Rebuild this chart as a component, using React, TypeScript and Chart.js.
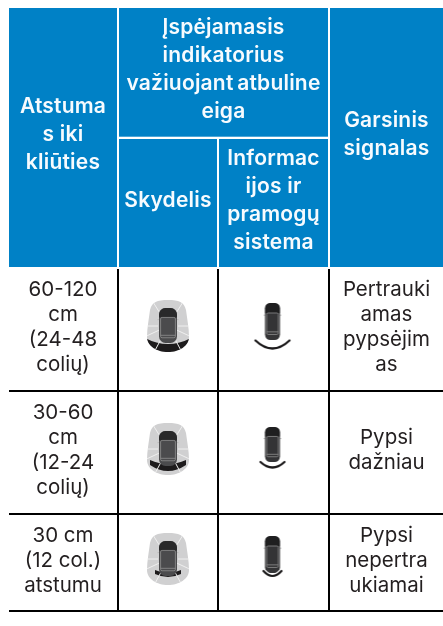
import React, { useEffect, useRef } from "react";
import { Chart, registerables } from "chart.js";

Chart.register(...registerables);

// ---- table content
const headDistance = ["Atstuma", "s iki", "kliūties"];
const headIndicator = ["Įspėjamasis", "indikatorius", "važiuojant\u2009atbuline", "eiga"];
const headPanel = ["Skydelis"];
const headInfo = ["Informac", "ijos ir", "pramogų", "sistema"];
const headSound = ["Garsinis", "signalas"];
const distanceLabels = [
  ["60-120", "cm", "(24-48", "colių)"],
  ["30-60", "cm", "(12-24", "colių)"],
  ["30 cm", "(12 col.)", "atstumu"],
];
const soundLabels = [
  ["Pertrauki", "amas", "pypsėjim", "as"],
  ["Pypsi", "dažniau"],
  ["Pypsi", "nepertra", "ukiamai"],
];
// warning level of each row: index into the icon variants
const warningLevels = [0, 1, 2];

// ---- table geometry, in axis units
const columnEdges = [9, 117, 119, 217, 219, 328, 330, 443];
const headerEdges = [8, 136.7, 139, 267];
const rowEdges = [269, 390, 392, 513, 515, 610];
const panelIconCentres = [326, 449, 559];
const infoIconCentres = [326, 448, 557];

const BLUE = "#0081c6";
const HEAD_FONT = '600 21px Inter, "Noto Sans", sans-serif';
const BODY_FONT = '400 20.5px Inter, "Noto Sans", sans-serif';

function drawCar(c: CanvasRenderingContext2D, cx: number, top: number, w: number, h: number, body: string, hood: string) {
  const x = cx - w / 2;
  c.strokeStyle = "#b5b5b5";
  c.lineWidth = 0.8;
  // mirrors
  c.beginPath();
  c.moveTo(x - 1.5, top + h * 0.33);
  c.lineTo(x + w + 1.5, top + h * 0.33);
  c.stroke();
  c.fillStyle = body;
  c.beginPath();
  c.roundRect(x, top, w, h, w * 0.36);
  c.fill();
  // hood
  c.save();
  c.beginPath();
  c.roundRect(x, top, w, h, w * 0.36);
  c.clip();
  c.fillStyle = hood;
  c.fillRect(x, top, w, h * 0.27);
  c.restore();
  c.strokeStyle = "#8f8f8f";
  c.beginPath();
  c.roundRect(x + 1.6, top + h * 0.27, w - 3.2, h * 0.58, 1.5);
  c.stroke();
  c.beginPath();
  c.moveTo(x + 1.6, top + h * 0.78);
  c.lineTo(x + w - 1.6, top + h * 0.78);
  c.stroke();
}

function makeCanvas(w: number, h: number) {
  const cv = document.createElement("canvas");
  cv.width = w;
  cv.height = h;
  const c = cv.getContext("2d") as CanvasRenderingContext2D;
  c.filter = "blur(0.55px)";
  return { cv, c };
}

// black warning band of the panel icon
const panelBandLeft = [-2, 3, 8];
const panelBandRight = [44, 39, 34];
const panelBandTop = [38, 37, 37];
const panelBandTopDip = [12, 8, 6];
const panelBandEnd = [38, 42, 41];
const panelBandEndDip = [40, 12, 6];

function panelIcon(level: number) {
  const W = 48;
  const H = 58;
  const { cv, c } = makeCanvas(W, H);
  const ox = 3;
  const oy = 3;
  const w = 42;
  const h = 52;
  const shape = new Path2D();
  shape.moveTo(ox + 21, oy);
  shape.bezierCurveTo(ox + 32, oy, ox + 37, oy + 2, ox + 39, oy + 10);
  shape.bezierCurveTo(ox + 40, oy + 18, ox + w, oy + 28, ox + w, oy + 37);
  shape.bezierCurveTo(ox + w, oy + 46, ox + 32, oy + h, ox + 21, oy + h);
  shape.bezierCurveTo(ox + 10, oy + h, ox, oy + 46, ox, oy + 37);
  shape.bezierCurveTo(ox, oy + 28, ox + 2, oy + 18, ox + 3, oy + 10);
  shape.bezierCurveTo(ox + 5, oy + 2, ox + 10, oy, ox + 21, oy);
  shape.closePath();
  c.save();
  c.clip(shape);
  c.fillStyle = "#d0d0d1";
  c.fillRect(0, 0, W, H);
  const cx = ox + 21;
  const cy = oy + 26;
  const rad = (d: number) => (d * Math.PI) / 180;
  const L = ox + panelBandLeft[level];
  const R = ox + panelBandRight[level];
  c.fillStyle = "#1d1b1c";
  c.beginPath();
  c.moveTo(L, oy + panelBandTop[level]);
  c.quadraticCurveTo(cx, oy + panelBandTop[level] + panelBandTopDip[level], R, oy + panelBandTop[level]);
  c.lineTo(R, oy + panelBandEnd[level]);
  c.quadraticCurveTo(cx, oy + panelBandEnd[level] + panelBandEndDip[level], L, oy + panelBandEnd[level]);
  c.closePath();
  c.fill();
  // zone separators
  c.strokeStyle = "#efefef";
  c.lineWidth = 1;
  for (const a of [-122, -58, 0, 180, 62, 118, 25, 155]) {
    c.beginPath();
    c.moveTo(cx + 10 * Math.cos(rad(a)), cy + 10 * Math.sin(rad(a)));
    c.lineTo(cx + 45 * Math.cos(rad(a)), cy + 45 * Math.sin(rad(a)));
    c.stroke();
  }
  c.restore();
  drawCar(c, cx, oy + 8, 18, 35, "#4b4b4d", "#29292a");
  return cv;
}

// car and parking-distance arc of the infotainment icon
const infoCarTop = [7, 9, 9];
const infoCarLength = [37, 35, 37];
const infoArcY = [44.5, 44, 44];
const infoArcHalf = [17, 12, 9];
const infoArcDip = [16, 11, 10];

function infoIcon(level: number) {
  const W = 44;
  const H = 60;
  const { cv, c } = makeCanvas(W, H);
  const cx = 22;
  drawCar(c, cx, infoCarTop[level], 15, infoCarLength[level], "#343436", "#1f1f20");
  const y0 = infoArcY[level];
  const half = infoArcHalf[level];
  const path = new Path2D();
  path.moveTo(cx - half, y0);
  path.quadraticCurveTo(cx, y0 + infoArcDip[level], cx + half, y0);
  c.lineCap = "round";
  c.strokeStyle = "#ffffff";
  c.lineWidth = 4.5;
  c.stroke(path);
  c.strokeStyle = "#1d1b1c";
  c.lineWidth = 2.2;
  c.stroke(path);
  return cv;
}

type Box = { x0: number; x1: number; y0: number; y1: number; lines: string[] };

function App() {
  const ref = useRef<HTMLCanvasElement>(null);

  useEffect(() => {
    if (!ref.current) return;
    const [c0, c0e, c1, c1e, c2, c2e, c3, c3e] = columnEdges;
    const [h0, h0e, h1, h1e] = headerEdges;
    const heads: Box[] = [
      { x0: c0, x1: c0e, y0: h0, y1: h1e, lines: headDistance },
      { x0: c1, x1: c2e, y0: h0, y1: h0e, lines: headIndicator },
      { x0: c1, x1: c1e, y0: h1, y1: h1e, lines: headPanel },
      { x0: c2, x1: c2e, y0: h1, y1: h1e, lines: headInfo },
      { x0: c3, x1: c3e, y0: h0, y1: h1e, lines: headSound },
    ];
    const rows = [0, 1, 2].map((i) => [rowEdges[i * 2], rowEdges[i * 2 + 1]]);
    const body: Box[] = [];
    rows.forEach(([a, b], i) => {
      body.push({ x0: c0, x1: c0e, y0: a, y1: b, lines: distanceLabels[i] });
      body.push({ x0: c3, x1: c3e, y0: a, y1: b, lines: soundLabels[i] });
    });

    const rule = (x0: number, y0: number, x1: number, y1: number) => ({
      type: "line" as const,
      data: [{ x: x0, y: y0 }, { x: x1, y: y1 }],
      borderColor: "#000",
      borderWidth: 2,
      pointRadius: 0,
      showLine: true,
    });
    const ruleTop = rowEdges[0];
    const ruleBottom = rowEdges[5] + 2;
    const midX = [c0e + 1, c1e + 1, c2e + 1];
    const midY = [rowEdges[1] + 1, rowEdges[3] + 1, rowEdges[5] + 1];

    const tablePlugin = {
      id: "table",
      beforeDatasetsDraw(chart: any) {
        const { ctx, scales } = chart;
        const X = (v: number) => scales.x.getPixelForValue(v);
        const Y = (v: number) => scales.y.getPixelForValue(v);
        ctx.save();
        ctx.fillStyle = BLUE;
        heads.forEach((b) => ctx.fillRect(X(b.x0), Y(b.y0), X(b.x1) - X(b.x0), Y(b.y1) - Y(b.y0)));
        ctx.textAlign = "center";
        ctx.textBaseline = "alphabetic";
        const write = (b: Box, font: string, colour: string, lh: number, off: number, spacing: string) => {
          ctx.font = font;
          ctx.letterSpacing = spacing;
          ctx.fillStyle = colour;
          const cx = X((b.x0 + b.x1) / 2);
          const cy = Y((b.y0 + b.y1) / 2);
          b.lines.forEach((t, i) => {
            ctx.fillText(t, cx, cy + off + (i - (b.lines.length - 1) / 2) * lh);
          });
        };
        heads.forEach((b) => write(b, HEAD_FONT, "#f7fbfe", 28, 3.5, "0.2px"));
        body.forEach((b) => write(b, BODY_FONT, "#231f20", 25, 4, "0px"));
        ctx.restore();
      },
    };

    const chart = new Chart(ref.current, {
      type: "scatter",
      data: {
        datasets: [
          ...midX.map((x) => rule(x, ruleTop, x, ruleBottom)),
          ...midY.map((y) => rule(c0, y, c3e, y)),
          {
            label: "Skydelis",
            data: warningLevels.map((l) => ({ x: (c1 + c1e) / 2, y: panelIconCentres[l] })),
            pointStyle: warningLevels.map(panelIcon),
            pointRadius: 24,
          },
          {
            label: "Informacijos ir pramogų sistema",
            data: warningLevels.map((l) => ({ x: (c2 + c2e) / 2 - 1, y: infoIconCentres[l] })),
            pointStyle: warningLevels.map(infoIcon),
            pointRadius: 22,
          },
        ] as any,
      },
      options: {
        responsive: false,
        animation: false,
        clip: false,
        layout: { padding: 0, autoPadding: false },
        plugins: { legend: { display: false }, tooltip: { enabled: false } },
        scales: {
          x: { type: "linear", min: 0, max: 443, display: false },
          y: { type: "linear", min: 0, max: 626, reverse: true, display: false },
        },
      },
      plugins: [tablePlugin],
    } as any);
    return () => chart.destroy();
  }, []);

  return (
    <div style={{ position: "absolute", left: 0, top: 0, width: 443, height: 626, background: "#fff" }}>
      <canvas ref={ref} width={443} height={626} style={{ display: "block" }} />
    </div>
  );
}

export default App;
